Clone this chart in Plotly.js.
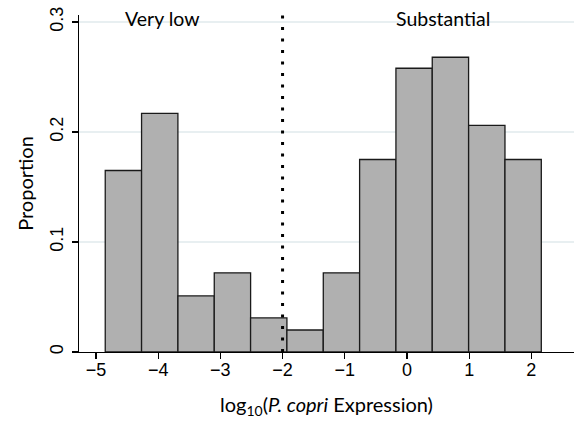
<!DOCTYPE html>
<html>
<head>
<meta charset="utf-8">
<script src="https://cdn.plot.ly/plotly-3.0.1.min.js"></script>
<style>html,body{margin:0;padding:0;background:#fff;}#chart{width:574px;height:421px;}</style>
</head>
<body>
<div id="chart"></div>
<script>
// Histogram bins (centres on log10 scale) and their heights
var binCenters = [-4.559, -3.975, -3.390, -2.806, -2.222, -1.638, -1.053, -0.469, 0.115, 0.699, 1.284, 1.868];
var proportions = [0.165, 0.217, 0.051, 0.072, 0.031, 0.020, 0.072, 0.175, 0.258, 0.268, 0.206, 0.175];
var binWidth = 0.5843;
var xTickVals = [-5, -4, -3, -2, -1, 0, 1, 2];
var xTickText = ['\u22125', '\u22124', '\u22123', '\u22122', '\u22121', '0', '1', '2'];
var yTickVals = [0, 0.1, 0.2, 0.3];
var yTickText = ['0', '0.1', '0.2', '0.3'];
var cutoff = -2;
var groupLabels = ['Very low', 'Substantial'];
var groupLabelX = [-3.93, 0.573];

var trace = {
  type: 'bar',
  x: binCenters,
  y: proportions,
  width: binCenters.map(function(){ return binWidth; }),
  marker: {color: '#b0b0b0', line: {color: '#1a1a1a', width: 1.3}},
  hoverinfo: 'skip'
};

var tickFont = {family: '"Liberation Sans", Arial, sans-serif', size: 18, color: '#000'};
var titleFont = {family: 'Lato, "Open Sans", sans-serif', size: 20, color: '#000'};
var annFont = {family: 'Lato, "Open Sans", sans-serif', size: 19.5, color: '#000'};

var layout = {
  width: 574, height: 421,
  margin: {l: 79, r: 0, t: 15, b: 69},
  paper_bgcolor: '#fff', plot_bgcolor: '#fff',
  showlegend: false,
  bargap: 0,
  xaxis: {
    range: [-5.273, 2.686],
    tickvals: xTickVals, ticktext: xTickText,
    ticks: 'outside', ticklen: 6, tickwidth: 1.2, tickcolor: '#000',
    ticklabelstandoff: -5,
    showline: true, linecolor: '#000', linewidth: 1.3,
    showgrid: false, zeroline: false,
    tickfont: tickFont,
    title: {text: 'log<sub>10</sub>(<i>P. copri</i> Expression)', font: titleFont, standoff: 19}
  },
  yaxis: {
    range: [0, 0.3064],
    tickvals: yTickVals, ticktext: yTickText,
    tickangle: -90,
    ticks: 'outside', ticklen: 6, tickwidth: 1.2, tickcolor: '#000',
    ticklabelstandoff: 2,
    showline: true, linecolor: '#000', linewidth: 1.3,
    showgrid: true, gridcolor: '#e8eff1', gridwidth: 1.5,
    zeroline: false,
    tickfont: tickFont,
    title: {text: 'Proportion', font: titleFont, standoff: 7}
  },
  shapes: [{
    type: 'line', xref: 'x', yref: 'y',
    x0: cutoff, x1: cutoff, y0: 0, y1: 0.309,
    line: {color: '#000', width: 3, dash: '3px,8.5px'}
  }],
  annotations: groupLabels.map(function(t, i){
    return {text: t, x: groupLabelX[i], y: 0.303, xref: 'x', yref: 'y',
            xanchor: 'center', yanchor: 'middle', showarrow: false, font: annFont};
  })
};

Plotly.newPlot('chart', [trace], layout, {displayModeBar: false, staticPlot: true});
</script>
</body>
</html>
